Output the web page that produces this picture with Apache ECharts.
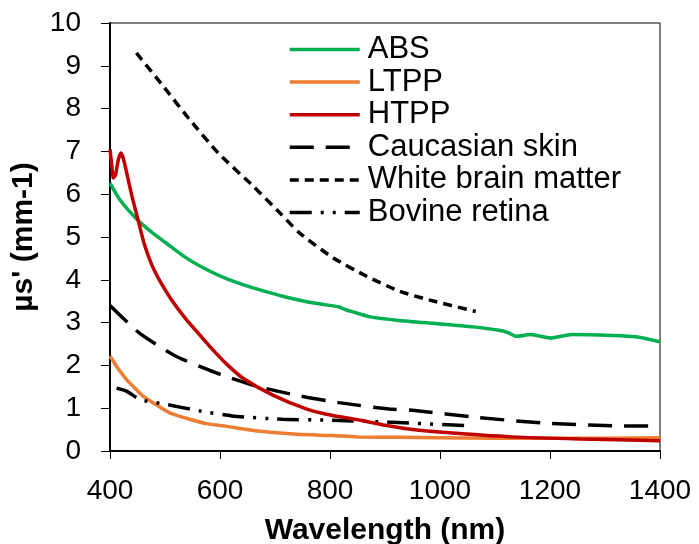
<!DOCTYPE html>
<html>
<head>
<meta charset="utf-8">
<script src="https://cdn.jsdelivr.net/npm/echarts@6/dist/echarts.min.js"></script>
<style>
  html, body { margin: 0; padding: 0; background: #fff; }
  #chart { width: 699px; height: 544px; }
</style>
</head>
<body>
<div id="chart"></div>
<script>
// wavelength (nm) / reduced scattering coefficient (mm-1) per sample
const absWl = [400, 418, 447, 475, 502, 540, 580, 615, 653, 690, 725, 760, 790, 815, 829, 845, 871, 925, 1000, 1060, 1107, 1125, 1138, 1165, 1201, 1240, 1313, 1356, 1400]
const absVal = [6.26, 5.87, 5.44, 5.12, 4.86, 4.50, 4.21, 4.01, 3.84, 3.70, 3.58, 3.48, 3.42, 3.37, 3.30, 3.24, 3.14, 3.05, 2.97, 2.90, 2.82, 2.76, 2.68, 2.72, 2.64, 2.72, 2.70, 2.67, 2.55]

const ltppWl = [400, 415, 430, 442, 460, 483, 509, 540, 575, 612, 673, 740, 804, 850, 925, 1000, 1100, 1200, 1300, 1400]
const ltppVal = [2.22, 1.92, 1.67, 1.51, 1.28, 1.09, 0.89, 0.76, 0.64, 0.575, 0.46, 0.39, 0.36, 0.33, 0.32, 0.31, 0.30, 0.30, 0.30, 0.31]

const htppWl = [400, 403, 406, 410, 415, 420, 425, 432, 440, 451, 462, 476, 493, 512, 537, 564, 588, 612, 642, 697, 758, 805, 855, 900, 950, 1010, 1131, 1253, 1400]
const htppVal = [7.05, 6.70, 6.38, 6.45, 6.80, 6.96, 6.80, 6.40, 5.95, 5.40, 4.85, 4.35, 3.92, 3.53, 3.10, 2.70, 2.35, 2.03, 1.70, 1.30, 0.98, 0.83, 0.72, 0.60, 0.50, 0.43, 0.33, 0.28, 0.24]

const skinWl = [400, 453, 519, 592, 665, 744, 816, 907, 950, 1071, 1192, 1313, 1400]
const skinVal = [3.40, 2.76, 2.22, 1.83, 1.52, 1.29, 1.13, 0.98, 0.95, 0.78, 0.65, 0.59, 0.58]

const brainWl = [448, 497, 545, 597, 661, 709, 745, 806, 867, 927, 980, 1065]
const brainVal = [9.30, 8.52, 7.74, 6.96, 6.18, 5.56, 5.09, 4.51, 4.08, 3.73, 3.53, 3.26]

const retinaWl = [412, 430, 455, 501, 562, 622, 713, 804, 913, 1050]
const retinaVal = [1.47, 1.40, 1.20, 1.09, 0.94, 0.82, 0.74, 0.72, 0.67, 0.59]

const xTicks = [400, 600, 800, 1000, 1200, 1400]
const yTicks = [0, 1, 2, 3, 4, 5, 6, 7, 8, 9, 10]

const font = 'Liberation Sans, Arial, sans-serif'

function pairs(xs, ys) {
  return xs.map((x, i) => [x, ys[i]])
}

function lineSeries(name, xs, ys, color, type) {
  return {
    name: name,
    type: 'line',
    data: pairs(xs, ys),
    symbol: 'none',
    smooth: 0.2,
    lineStyle: { color: color, width: 3.5, type: type || 'solid', cap: 'butt' },
    itemStyle: { color: color }
  }
}

const chart = echarts.init(document.getElementById('chart'))

chart.setOption({
  animation: false,
  textStyle: { fontFamily: font, color: '#000' },
  grid: {
    left: 110,
    right: 39,
    top: 23,
    bottom: 93,
    outerBoundsMode: 'none',
    containLabel: false,
    show: true,
    borderColor: '#000',
    borderWidth: 1
  },
  legend: {
    orient: 'vertical',
    left: 288,
    top: 34,
    padding: 0,
    itemWidth: 70,
    itemHeight: 14,
    itemGap: 1.6,
    itemStyle: { opacity: 0 },
    lineStyle: { width: 3.5 },
    textStyle: { fontSize: 31, lineHeight: 30, color: '#000', fontFamily: font, padding: [0, 0, 0, 3] },
    data: ['ABS', 'LTPP', 'HTPP', 'Caucasian skin', 'White brain matter', 'Bovine retina']
  },
  xAxis: {
    type: 'value',
    min: xTicks[0],
    max: xTicks[xTicks.length - 1],
    interval: 200,
    name: 'Wavelength (nm)',
    nameLocation: 'middle',
    nameGap: 65,
    nameTextStyle: { fontSize: 30, fontWeight: 'bold', color: '#000' },
    axisLine: { lineStyle: { color: '#000', width: 2 } },
    axisTick: { length: 8, lineStyle: { color: '#000' } },
    axisLabel: { fontSize: 28, color: '#000', margin: 26, formatter: v => String(v) },
    splitLine: { show: false }
  },
  yAxis: {
    type: 'value',
    min: yTicks[0],
    max: yTicks[yTicks.length - 1],
    interval: 1,
    name: "µs' (mm-1)",
    nameLocation: 'middle',
    nameGap: 64,
    nameTextStyle: { fontSize: 30, fontWeight: 'bold', color: '#000' },
    axisLine: { show: true, lineStyle: { color: '#000', width: 2 } },
    axisTick: { show: true, length: 9, lineStyle: { color: '#000' } },
    axisLabel: { fontSize: 28, color: '#000', margin: 29 },
    splitLine: { show: false }
  },
  series: [
    lineSeries('ABS', absWl, absVal, '#00b050'),
    lineSeries('LTPP', ltppWl, ltppVal, '#ed7d31'),
    lineSeries('Caucasian skin', skinWl, skinVal, '#000', [24, 12]),
    lineSeries('White brain matter', brainWl, brainVal, '#000', [9, 6]),
    lineSeries('Bovine retina', retinaWl, retinaVal, '#000', [22, 9, 3, 9, 3, 9]),
    lineSeries('HTPP', htppWl, htppVal, '#c00000')
  ]
})
</script>
</body>
</html>
